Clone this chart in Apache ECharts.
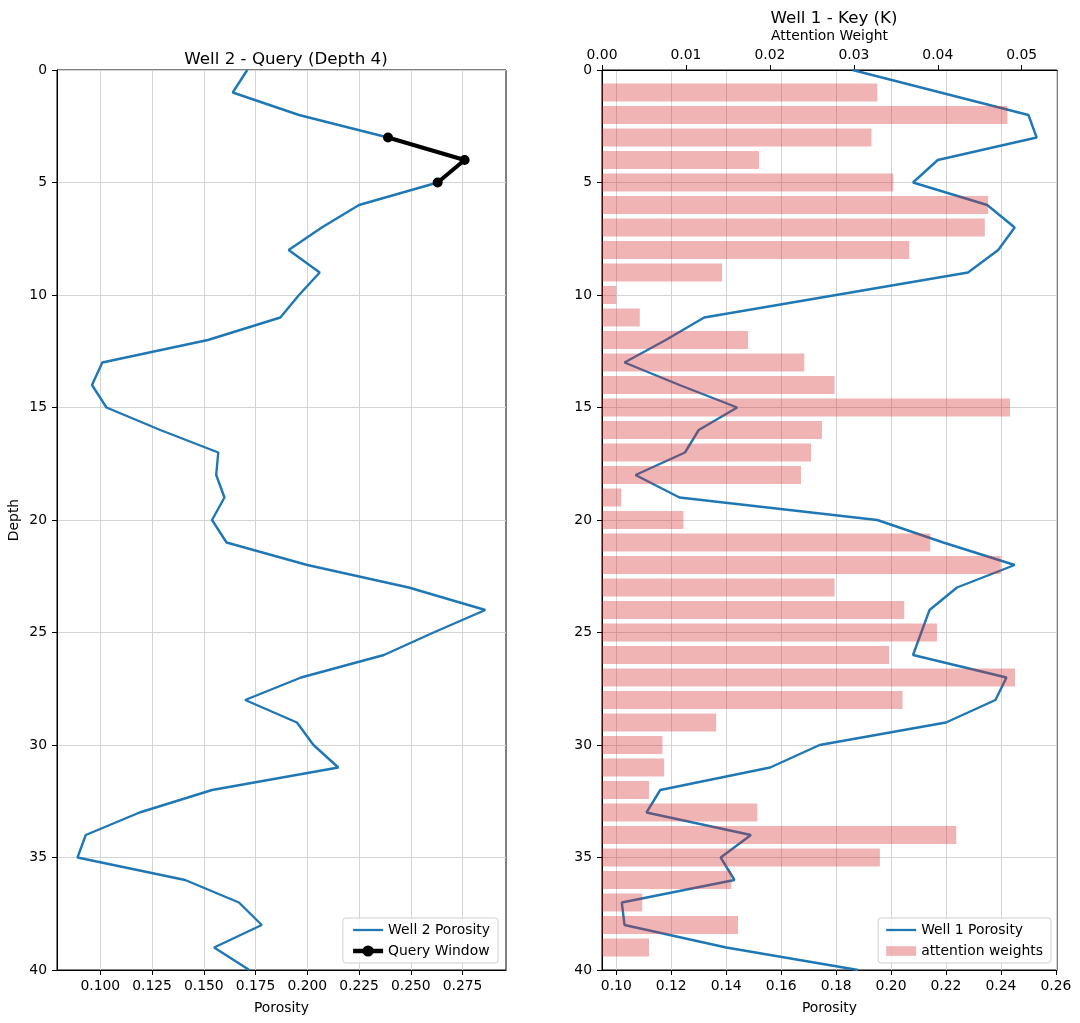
<!DOCTYPE html>
<html>
<head>
<meta charset="utf-8">
<title>Well query / key attention</title>
<script src="https://cdn.jsdelivr.net/npm/echarts@6/dist/echarts.min.js"></script>
<style>
  html, body { margin: 0; padding: 0; background: #fff; }
  #chart { width: 1080px; height: 1023px; }
</style>
</head>
<body>
<div id="chart"></div>
<script>
// depth samples 0..40
const depths = [];
for (let d = 0; d <= 40; d++) depths.push(d);

// Well 2 porosity (query well), one value per depth
const well2Porosity = [
  0.171, 0.164, 0.196, 0.239, 0.276, 0.263, 0.225, 0.207, 0.191, 0.206,
  0.196, 0.187, 0.152, 0.101, 0.096, 0.103, 0.129, 0.157, 0.156, 0.160,
  0.154, 0.161, 0.200, 0.249, 0.286, 0.261, 0.237, 0.197, 0.170, 0.195,
  0.203, 0.215, 0.154, 0.119, 0.093, 0.089, 0.141, 0.167, 0.178, 0.155,
  0.172
];

// query window around depth 4
const queryDepths = [3, 4, 5];

// Well 1 porosity (key well)
const well1Porosity = [
  0.186, 0.218, 0.250, 0.253, 0.217, 0.208, 0.235, 0.245, 0.239, 0.228,
  0.180, 0.132, 0.118, 0.103, 0.123, 0.144, 0.130, 0.125, 0.107, 0.123,
  0.195, 0.219, 0.245, 0.224, 0.214, 0.211, 0.208, 0.242, 0.238, 0.220,
  0.174, 0.156, 0.116, 0.111, 0.149, 0.138, 0.143, 0.102, 0.103, 0.140,
  0.188
];

// attention weights for depths 1..39 (none drawn at 0 and 40)
const attentionWeights = [
  null,
  0.0328, 0.0483, 0.0321, 0.0187, 0.0347, 0.0460, 0.0456, 0.0366, 0.0143, 0.0017,
  0.0045, 0.0174, 0.0241, 0.0277, 0.0486, 0.0262, 0.0249, 0.0237, 0.0023, 0.0097,
  0.0391, 0.0475, 0.0277, 0.0360, 0.0399, 0.0342, 0.0492, 0.0358, 0.0136, 0.0072,
  0.0074, 0.0056, 0.0185, 0.0422, 0.0331, 0.0154, 0.0048, 0.0162, 0.0056,
  null
];

// tick labels
const well2Ticks = [0.1, 0.125, 0.15, 0.175, 0.2, 0.225, 0.25, 0.275];
const well1Ticks = [0.1, 0.12, 0.14, 0.16, 0.18, 0.2, 0.22, 0.24, 0.26];
const weightTicks = [0, 0.01, 0.02, 0.03, 0.04, 0.05];

const FONT = "DejaVu Sans";
const TICK_SIZE = 13.9;
const TITLE_SIZE = 16.7;
const GRID_COLOR = "#d4d4d4";
// plain line / patch icons like matplotlib legend handles
const LINE_ICON = "path://M0,0L30,0L30,2.3L0,2.3Z";
const PATCH_ICON = "path://M0,0L28,0L28,9L0,9Z";

const well2Line = depths.map((d, i) => [well2Porosity[i], d]);
const queryLine = queryDepths.map(d => [well2Porosity[d], d]);
const well1Line = depths.map((d, i) => [well1Porosity[i], d]);

function porosityAxis(gridIndex, min, max, ticks, digits) {
  return {
    type: "value",
    gridIndex: gridIndex,
    position: "bottom",
    min: min,
    max: max,
    name: "Porosity",
    nameLocation: "middle",
    nameGap: 31,
    nameTextStyle: { color: "#000", fontSize: TICK_SIZE, fontFamily: FONT },
    axisLine: { show: true, onZero: false, lineStyle: { color: "#000", width: 1 } },
    axisTick: { show: true, length: 5, customValues: ticks, lineStyle: { color: "#000" } },
    axisLabel: {
      color: "#000", fontSize: TICK_SIZE, fontFamily: FONT, margin: 9,
      customValues: ticks,
      formatter: v => v.toFixed(digits)
    },
    splitLine: { show: true, lineStyle: { color: GRID_COLOR, width: 1 } }
  };
}

function depthAxis(gridIndex, name) {
  return {
    type: "value",
    gridIndex: gridIndex,
    inverse: true,
    min: 0,
    max: 40,
    interval: 5,
    name: name,
    nameLocation: "middle",
    nameGap: 36,
    nameTextStyle: { color: "#000", fontSize: TICK_SIZE, fontFamily: FONT },
    axisLine: { show: true, onZero: false, lineStyle: { color: "#000", width: 1 } },
    axisTick: { show: true, length: 5, lineStyle: { color: "#000" } },
    axisLabel: { color: "#000", fontSize: TICK_SIZE, fontFamily: FONT, margin: 10 },
    splitLine: { show: true, lineStyle: { color: GRID_COLOR, width: 1 } }
  };
}

function legendBox(right, items) {
  return {
    orient: "vertical",
    right: right, bottom: 60,
    itemWidth: 30, itemHeight: 14, itemGap: 7,
    padding: [5, 8, 5, 8],
    symbolKeepAspect: true,
    backgroundColor: "rgba(255,255,255,0.8)",
    borderColor: "#d0d0d0", borderWidth: 1, borderRadius: 3,
    textStyle: { color: "#000", fontSize: TICK_SIZE, fontFamily: FONT },
    data: items
  };
}

const chart = echarts.init(document.getElementById("chart"), null, { renderer: "canvas" });

const option = {
  animation: false,
  backgroundColor: "#fff",
  textStyle: { fontFamily: FONT },
  title: [
    {
      text: "Well 2 - Query (Depth 4)",
      left: 281, top: 46, textAlign: "center",
      textStyle: { color: "#000", fontSize: TITLE_SIZE, fontWeight: "normal", fontFamily: FONT }
    },
    {
      text: "Well 1 - Key (K)",
      left: 829, top: 5, textAlign: "center",
      textStyle: { color: "#000", fontSize: TITLE_SIZE, fontWeight: "normal", fontFamily: FONT }
    }
  ],
  grid: [
    { left: 57, top: 70, width: 449, height: 900, show: true, borderColor: "#000", borderWidth: 1, containLabel: false },
    { left: 602, top: 70, width: 455, height: 900, show: true, borderColor: "#000", borderWidth: 1, containLabel: false }
  ],
  legend: [
    legendBox(582, [
      { name: "Well 2 Porosity", icon: LINE_ICON },
      { name: "Query Window", lineStyle: { width: 4.5 } }
    ]),
    legendBox(29, [
      { name: "Well 1 Porosity", icon: LINE_ICON },
      { name: "attention weights", icon: PATCH_ICON }
    ])
  ],
  xAxis: [
    porosityAxis(0, 0.0791, 0.2960, well2Ticks, 3),
    porosityAxis(1, 0.0948, 0.2604, well1Ticks, 2),
    {
      type: "value",
      gridIndex: 1,
      position: "top",
      min: 0,
      max: 0.0542,
      name: "Attention Weight",
      nameLocation: "middle",
      nameGap: 26,
      nameTextStyle: { color: "#000", fontSize: TICK_SIZE, fontFamily: FONT },
      axisLine: { show: true, onZero: false, lineStyle: { color: "#000", width: 1 } },
      axisTick: { show: true, length: 5, customValues: weightTicks, lineStyle: { color: "#000" } },
      axisLabel: {
        color: "#000", fontSize: TICK_SIZE, fontFamily: FONT, margin: 8,
        customValues: weightTicks,
        formatter: v => v.toFixed(2)
      },
      splitLine: { show: false }
    }
  ],
  yAxis: [
    depthAxis(0, "Depth"),
    depthAxis(1, ""),
    {
      // hidden band axis so bars sit on integer depths
      type: "category",
      gridIndex: 1,
      inverse: true,
      boundaryGap: false,
      data: depths.map(String),
      show: false
    }
  ],
  series: [
    {
      name: "Well 2 Porosity",
      type: "line",
      xAxisIndex: 0, yAxisIndex: 0,
      data: well2Line,
      symbol: "none",
      lineStyle: { color: "#1f77b4", width: 2.4 },
      itemStyle: { color: "#1f77b4" },
      z: 2
    },
    {
      name: "Query Window",
      type: "line",
      xAxisIndex: 0, yAxisIndex: 0,
      data: queryLine,
      symbol: "circle",
      symbolSize: 10,
      lineStyle: { color: "#000", width: 4 },
      itemStyle: { color: "#000" },
      z: 3
    },
    {
      name: "Well 1 Porosity",
      type: "line",
      xAxisIndex: 1, yAxisIndex: 1,
      data: well1Line,
      symbol: "none",
      lineStyle: { color: "#1f77b4", width: 2.4 },
      itemStyle: { color: "#1f77b4" },
      z: 2
    },
    {
      name: "attention weights",
      type: "bar",
      xAxisIndex: 2, yAxisIndex: 2,
      data: attentionWeights,
      barWidth: 18,
      itemStyle: { color: "rgba(214,39,40,0.35)" },
      z: 3
    }
  ]
};

chart.setOption(option);
</script>
</body>
</html>
